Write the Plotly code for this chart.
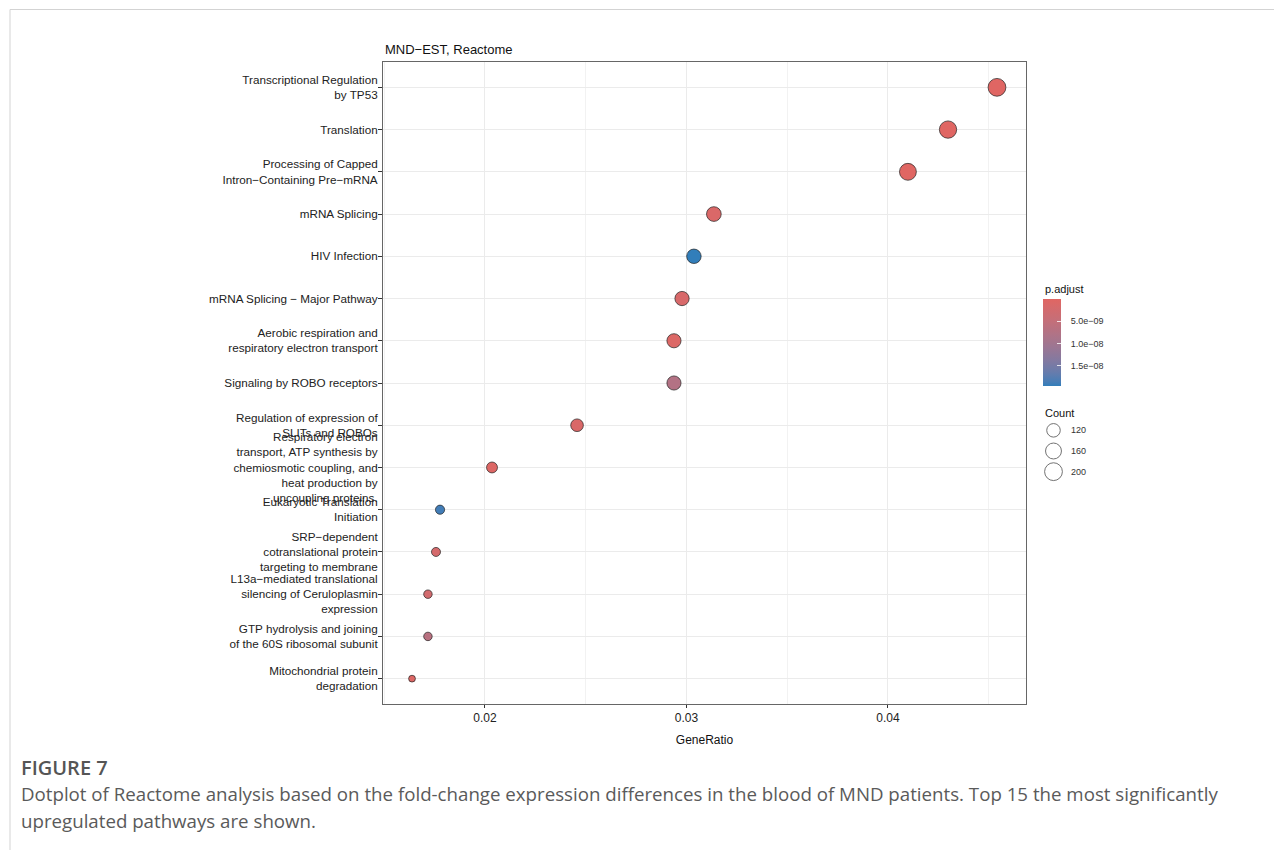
import numpy as np
import plotly.graph_objects as go

# ---------------- data ----------------
pathways = [
    "Transcriptional Regulation<br>by TP53",
    "Translation",
    "Processing of Capped<br>Intron−Containing Pre−mRNA",
    "mRNA Splicing",
    "HIV Infection",
    "mRNA Splicing − Major Pathway",
    "Aerobic respiration and<br>respiratory electron transport",
    "Signaling by ROBO receptors",
    "Regulation of expression of<br>SLITs and ROBOs",
    "Respiratory electron<br>transport, ATP synthesis by<br>chemiosmotic coupling, and<br>heat production by<br>uncoupling proteins.",
    "Eukaryotic Translation<br>Initiation",
    "SRP−dependent<br>cotranslational protein<br>targeting to membrane",
    "L13a−mediated translational<br>silencing of Ceruloplasmin<br>expression",
    "GTP hydrolysis and joining<br>of the 60S ribosomal subunit",
    "Mitochondrial protein<br>degradation",
]
gene_ratio = [0.04541, 0.04298, 0.04099, 0.03136, 0.03037, 0.02978, 0.02938,
              0.02938, 0.02457, 0.02035, 0.01777, 0.01757, 0.01717, 0.01717, 0.01638]
counts = [200, 189, 180, 138, 134, 131, 129, 129, 108, 90, 78, 77, 75, 75, 72]
p_adjust = [1e-12, 2e-11, 5e-11, 1.2e-9, 1.95e-8, 1.5e-9, 8e-10, 7.5e-9,
            1.2e-9, 6e-10, 1.88e-8, 2e-9, 2.5e-9, 6.5e-9, 5e-10]
x_ticks = [0.02, 0.03, 0.04]
x_ticktext = ["0.02", "0.03", "0.04"]
p_ticks = [5e-9, 1e-8, 1.5e-8]
p_ticktext = ["5.0e−09", "1.0e−08", "1.5e−08"]
count_breaks = [120, 160, 200]
title_text = "MND−EST, Reactome"
caption_head = "FIGURE 7"
caption_lines = [
    "Dotplot of Reactome analysis based on the fold-change expression differences in the blood of MND patients. Top 15 the most significantly",
    "upregulated pathways are shown.",
]

# ---------------- helpers ----------------
LOW_COL = "#e06663"   # small p.adjust
HIGH_COL = "#327eba"  # large p.adjust


def hex2rgb(h):
    h = h.lstrip("#")
    return np.array([int(h[i:i + 2], 16) for i in (0, 2, 4)], dtype=float)


M = np.array([[0.4124564, 0.3575761, 0.1804375],
              [0.2126729, 0.7151522, 0.0721750],
              [0.0193339, 0.1191920, 0.9503041]])
WHITE = np.array([0.95047, 1.0, 1.08883])


def rgb2lab(rgb):
    c = rgb / 255.0
    c = np.where(c <= 0.04045, c / 12.92, ((c + 0.055) / 1.055) ** 2.4)
    xyz = M @ c / WHITE
    f = np.where(xyz > 0.008856, np.cbrt(xyz), 7.787 * xyz + 16 / 116)
    return np.array([116 * f[1] - 16, 500 * (f[0] - f[1]), 200 * (f[1] - f[2])])


def lab2rgb(lab):
    fy = (lab[0] + 16) / 116
    fx = fy + lab[1] / 500
    fz = fy - lab[2] / 200
    f = np.array([fx, fy, fz])
    xyz = np.where(f ** 3 > 0.008856, f ** 3, (f - 16 / 116) / 7.787) * WHITE
    c = np.linalg.inv(M) @ xyz
    c = np.clip(c, 0, 1)
    c = np.where(c <= 0.0031308, 12.92 * c, 1.055 * c ** (1 / 2.4) - 0.055)
    return np.clip(np.round(c * 255), 0, 255).astype(int)


lab_hi = rgb2lab(hex2rgb(HIGH_COL))
lab_lo = rgb2lab(hex2rgb(LOW_COL))
colorscale = []
for t in np.linspace(0, 1, 21):
    r, g, b = lab2rgb(lab_hi + (lab_lo - lab_hi) * t)
    colorscale.append([float(t), f"rgb({r},{g},{b})"])

cmin_c, cmax_c = min(counts), max(counts)


def diam(c):
    return 7.5 + 11.0 * np.sqrt((np.asarray(c, float) - cmin_c) / (cmax_c - cmin_c))


LINE_W = 0.7

# ---------------- geometry (page pixels; page body has an 8px margin) ----------------
OFF = 8
W, H = 1282 - OFF, 850 - OFF
L, R, T, B = 383 - OFF, 10, 62 - OFF, 146
PW, PH = W - L - R, H - T - B
panel_right = 1026


def px(x):
    return (x - OFF - L) / PW


def py(y):
    return (H - B - (y - OFF)) / PH


fig = go.Figure()

fig.add_trace(go.Scatter(
    x=gene_ratio, y=pathways, mode="markers",
    marker=dict(
        size=diam(counts) - LINE_W,
        color=[-p for p in p_adjust],
        colorscale=colorscale,
        cmin=-max(p_adjust), cmax=-min(p_adjust),
        line=dict(color="#222222", width=LINE_W),
        opacity=1,
        colorbar=dict(
            x=px(1043), xanchor="left", y=py(299), yanchor="top",
            len=87, lenmode="pixels", thickness=18, thicknessmode="pixels",
            outlinewidth=0, xpad=0, ypad=0,
            tickvals=[-v for v in p_ticks],
            ticktext=["\u00a0\u00a0\u00a0" + s for s in p_ticktext],
            ticks="inside", ticklen=4, tickcolor="rgba(255,255,255,0.8)",
            tickfont=dict(family="Liberation Sans, Arial", size=9, color="#333333"),
        ),
    ),
    showlegend=False, hoverinfo="x+y",
))

# size legend drawn on a small helper axis
fig.add_trace(go.Scatter(
    x=[0.225] * len(count_breaks), y=list(range(len(count_breaks))),
    mode="markers",
    marker=dict(size=diam(count_breaks) - LINE_W, color="rgba(0,0,0,0)",
                line=dict(color="#222222", width=0.9)),
    xaxis="x2", yaxis="y2", showlegend=False, hoverinfo="skip",
))

annotations = []
for i, c in enumerate(count_breaks):
    annotations.append(dict(
        x=0.48, y=i, xref="x2", yref="y2", text=str(c), showarrow=False,
        xanchor="left", yanchor="middle",
        font=dict(family="Liberation Sans, Arial", size=9, color="#333333")))

annotations += [
    dict(x=px(1043), y=py(289), xref="paper", yref="paper", text="p.adjust",
         showarrow=False, xanchor="left", yanchor="middle",
         font=dict(family="Liberation Sans, Arial", size=11, color="#111111")),
    dict(x=px(1043), y=py(413), xref="paper", yref="paper", text="Count",
         showarrow=False, xanchor="left", yanchor="middle",
         font=dict(family="Liberation Sans, Arial", size=11, color="#111111")),
    dict(x=px(383), y=py(49), xref="paper", yref="paper", text=title_text,
         showarrow=False, xanchor="left", yanchor="middle",
         font=dict(family="Liberation Sans, Arial", size=13, color="#111111")),
    dict(x=px(19), y=py(767), xref="paper", yref="paper", text=caption_head,
         showarrow=False, xanchor="left", yanchor="middle",
         font=dict(family="Open Sans", size=20, color="#555555", weight=600)),
]
for k, line in enumerate(caption_lines):
    annotations.append(dict(
        x=px(19), y=py(794 + 26 * k), xref="paper", yref="paper", text=line,
        showarrow=False, xanchor="left", yanchor="middle",
        font=dict(family="Open Sans", size=18.7, color="#5a5a5a")))

shapes = [
    dict(type="line", xref="paper", yref="paper", x0=px(10), x1=px(1300),
         y0=py(9.5), y1=py(9.5), line=dict(color="#d3d3d3", width=1)),
    dict(type="line", xref="paper", yref="paper", x0=px(10), x1=px(10),
         y0=py(9.5), y1=py(870), line=dict(color="#d3d3d3", width=1)),
]

n = len(pathways)
fig.update_layout(
    width=W, height=H,
    margin=dict(l=L, r=R, t=T, b=B, pad=0),
    paper_bgcolor="white", plot_bgcolor="white",
    font=dict(family="Liberation Sans, Arial", size=12, color="#222222"),
    xaxis=dict(
        domain=[0, (panel_right - OFF - L) / PW],
        range=[0.01494, 0.04685], tickvals=x_ticks, ticktext=x_ticktext,
        showgrid=True, gridcolor="#EBEBEB", gridwidth=1.1,
        minor=dict(tickvals=[0.015, 0.025, 0.035, 0.045], showgrid=True,
                   gridcolor="#F2F2F2", gridwidth=0.7, ticks=""),
        ticks="outside", ticklen=3, tickcolor="#333333", tickwidth=1,
        showline=True, mirror=True, linecolor="#666666", linewidth=1,
        zeroline=False,
        tickfont=dict(size=12, color="#222222"),
        title=dict(text="GeneRatio", font=dict(size=12, color="#111111"), standoff=11),
    ),
    yaxis=dict(
        type="category", categoryorder="array", categoryarray=pathways,
        range=[n - 1 + 0.6, -0.6],
        showgrid=True, gridcolor="#EBEBEB", gridwidth=1.1,
        ticks="outside", ticklen=4, tickcolor="#333333", tickwidth=1,
        showline=True, mirror=True, linecolor="#666666", linewidth=1,
        zeroline=False, ticklabelstandoff=-2,
        tickfont=dict(size=11.7, color="#222222"),
    ),
    xaxis2=dict(domain=[px(1040), px(1100)], range=[0, 1], visible=False,
                anchor="y2", fixedrange=True),
    yaxis2=dict(domain=[py(482), py(420)], range=[2.5, -0.5], visible=False,
                anchor="x2", fixedrange=True),
    annotations=annotations,
    shapes=shapes,
)

fig.write_html("out.html")
